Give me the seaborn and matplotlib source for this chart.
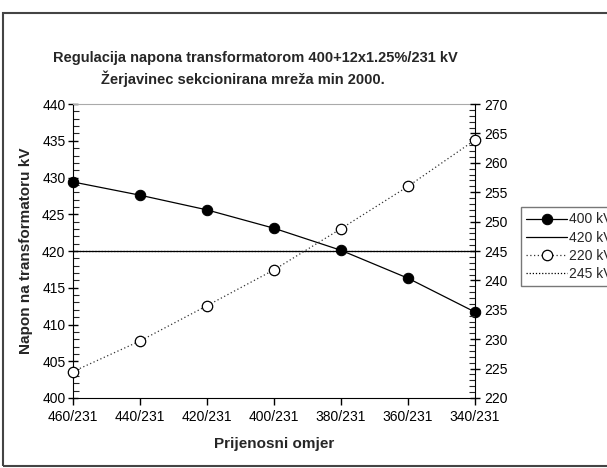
import numpy as np
import pandas as pd
import seaborn as sns
import matplotlib.pyplot as plt
from matplotlib.patches import Rectangle
from matplotlib.ticker import MultipleLocator

ratios = ['460/231', '440/231', '420/231', '400/231', '380/231', '360/231', '340/231']
u400 = [429.4, 427.6, 425.6, 423.1, 420.1, 416.3, 411.7]
u220 = [224.5, 229.7, 235.7, 241.8, 248.8, 256.0, 263.9]
ref420 = [420] * 7
ref245 = [245] * 7

sns.set_style('white')
plt.rcParams['font.family'] = ['Liberation Sans', 'DejaVu Sans']

df = pd.DataFrame({'pos': np.arange(len(ratios)), 'u400': u400, 'u220': u220,
                   'ref420': ref420, 'ref245': ref245})

fig = plt.figure(figsize=(6.07, 4.68), dpi=100)
ax = fig.add_axes([0.1203, 0.1496, 0.6622, 0.628])
ax2 = ax.twinx()

sns.lineplot(data=df, x='pos', y='u400', ax=ax, color='black', lw=0.9,
             marker='o', markersize=7.5, markerfacecolor='black', markeredgecolor='black',
             label='400 kV', legend=False, clip_on=False, zorder=5)
sns.lineplot(data=df, x='pos', y='ref420', ax=ax, color='black', lw=0.9,
             label='420 kV', legend=False)
sns.lineplot(data=df, x='pos', y='u220', ax=ax2, color='#333333', lw=0.9, ls=(0, (1, 2)),
             marker='o', markersize=7.5, markerfacecolor='white', markeredgecolor='black',
             markeredgewidth=0.9, label='220 kV', legend=False, clip_on=False, zorder=5)
sns.lineplot(data=df, x='pos', y='ref245', ax=ax2, color='black', lw=0.9, ls=(0, (1, 1.5)),
             label='245 kV', legend=False)

ax.set_xlim(0, len(ratios) - 1)
ax.set_ylim(400, 440)
ax2.set_ylim(220, 270)
ax.set_xticks(df['pos'])
ax.set_xticklabels(ratios)
ax.yaxis.set_major_locator(MultipleLocator(5))
ax.yaxis.set_minor_locator(MultipleLocator(1))
ax2.yaxis.set_major_locator(MultipleLocator(5))
ax2.yaxis.set_minor_locator(MultipleLocator(1))

for a in (ax, ax2):
    for s in a.spines.values():
        s.set_visible(False)
ax.spines['left'].set_visible(True)
ax.spines['bottom'].set_visible(True)
ax2.spines['right'].set_visible(True)
ax.spines['top'].set_visible(True)
ax.spines['top'].set_color('#aaaaaa')
for s in ('left', 'bottom'):
    ax.spines[s].set_color('black')
ax2.spines['right'].set_color('black')

ax.tick_params(axis='y', which='major', direction='inout', length=7, width=1,
               left=True, labelsize=10, colors='black', pad=2)
ax.tick_params(axis='y', which='minor', direction='in', length=4, width=0.8, left=True)
ax.tick_params(axis='x', which='major', direction='out', length=5, width=1,
               bottom=True, labelsize=10, colors='black', pad=4)
ax2.tick_params(axis='y', which='major', direction='inout', length=7, width=1,
                right=True, labelsize=10, colors='black', pad=3)
ax2.tick_params(axis='y', which='minor', direction='in', length=4, width=0.8, right=True)

ax.set_xlabel('Prijenosni omjer', fontsize=11, fontweight='bold')
ax.xaxis.set_label_coords(0.5, -0.133)
ax.set_ylabel('Napon na transformatoru kV', fontsize=11, fontweight='bold')
ax.yaxis.set_label_coords(-0.1, 0.5)
ax2.set_ylabel('')

fig.text(0.42, 0.876, 'Regulacija napona transformatorom 400+12x1.25%/231 kV',
         ha='center', va='center', fontsize=10.5, fontweight='bold')
fig.text(0.40, 0.831, 'Žerjavinec sekcionirana mreža min 2000.',
         ha='center', va='center', fontsize=10.5, fontweight='bold')

h1, l1 = ax.get_legend_handles_labels()
h2, l2 = ax2.get_legend_handles_labels()
leg = fig.legend(h1 + h2, l1 + l2, loc='upper left', bbox_to_anchor=(0.858, 0.558),
                 borderaxespad=0, frameon=True, fancybox=False, edgecolor='#555555',
                 fontsize=10, handlelength=2.9, handletextpad=0.2, borderpad=0.4,
                 labelspacing=0.3)
leg.get_frame().set_linewidth(1)

fig.patches.append(Rectangle((0.005, 0.004), 1.1, 0.968, transform=fig.transFigure,
                             fill=False, edgecolor='#444444', lw=1.5))

fig.savefig('out.png', dpi=100)
